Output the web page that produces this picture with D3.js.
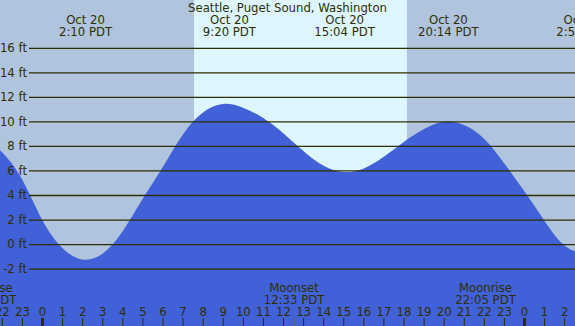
<!DOCTYPE html>
<html>
<head>
<meta charset="utf-8">
<script src="https://cdn.jsdelivr.net/npm/d3@7"></script>
<style>
  html, body { margin: 0; padding: 0; background: #fff; }
  svg { display: block; }
  text { font-family: "DejaVu Sans", sans-serif; font-size: 11.7px; fill: #2e2e00; }
</style>
</head>
<body>
<div id="chart"></div>
<script>
// tide curve (hours from midnight Oct 20, feet)
const tideHours = [-3, -2, -1, 0, 1, 2, 3, 4, 5, 6, 7, 8, 9, 10, 11, 12, 13, 14, 15, 16, 17, 18, 19, 20, 21, 22, 23, 24, 25, 26, 27, 28];
const tideFeet = [9.0, 7.5, 5.3, 2.0, -0.3, -1.25, -0.8, 1.0, 3.65, 6.25, 8.9, 10.7, 11.42, 11.12, 10.3, 9.05, 7.6, 6.4, 5.88, 6.15, 7.1, 8.3, 9.35, 9.97, 9.7, 8.6, 6.6, 4.35, 1.95, -0.1, -0.65, -0.3];

// high / low labels
const extremaHours = [2.167, 9.333, 15.067, 20.233, 26.93];
const extremaDates = ["Oct 20", "Oct 20", "Oct 20", "Oct 20", "Oct 21"];
const extremaTimes = ["2:10 PDT", "9:20 PDT", "15:04 PDT", "20:14 PDT", "2:56 PDT"];

// moon events
const moonHours = [-2.783, 12.55, 22.083];
const moonNames = ["Moonrise", "Moonset", "Moonrise"];
const moonTimes = ["21:13 PDT", "12:33 PDT", "22:05 PDT"];

// daylight
const sunriseHour = 7.57;
const sunsetHour = 18.17;

const feetTicks = [-2, 0, 2, 4, 6, 8, 10, 12, 14, 16];
const hourTicks = d3.range(-2, 27);
const title = "Seattle, Puget Sound, Washington";

const width = 575, height = 326;

const x = d3.scaleLinear().domain([0, 24]).range([42, 524]);
const y = d3.scaleLinear().domain([-2, 16]).range([268.6, 47.8]);

const svg = d3.select("#chart").append("svg")
    .attr("width", width)
    .attr("height", height);

// night / day background
svg.append("rect")
    .attr("x", 0).attr("y", 0)
    .attr("width", width).attr("height", height)
    .attr("fill", "#b0c4de");
svg.append("rect")
    .attr("x", x(sunriseHour)).attr("y", 0)
    .attr("width", x(sunsetHour) - x(sunriseHour)).attr("height", height)
    .attr("fill", "#ddf6ff");

// tide area
const tide = tideHours.map((h, i) => ({ h: h, v: tideFeet[i] }));
const area = d3.area()
    .x(d => x(d.h))
    .y0(height)
    .y1(d => y(d.v))
    .curve(d3.curveNatural);
svg.append("path")
    .datum(tide)
    .attr("d", area)
    .attr("fill", "#4161d8");

// feet grid + labels
const yAxis = svg.append("g")
    .attr("transform", "translate(29,0)")
    .call(d3.axisLeft(y)
        .tickValues(feetTicks)
        .tickSize(-(width - 29))
        .tickPadding(2)
        .tickFormat(d => d + " ft"));
yAxis.select(".domain").remove();
yAxis.selectAll("line").attr("stroke", "#2e2e00").attr("stroke-width", 1.3);
yAxis.selectAll("text")
    .attr("fill", "#2e2e00")
    .style("font-family", "DejaVu Sans")
    .style("font-size", "11.7px");

// hour ticks along the bottom
const xAxis = svg.append("g")
    .attr("transform", `translate(0,${height})`)
    .call(d3.axisTop(x)
        .tickValues(hourTicks)
        .tickSize(8)
        .tickPadding(2)
        .tickFormat(h => ((h % 24) + 24) % 24));
xAxis.select(".domain").remove();
xAxis.selectAll("line")
    .attr("stroke", "#2e2e00")
    .attr("stroke-width", h => (h % 24 === 0 ? 3 : 1));
xAxis.selectAll("text")
    .attr("fill", "#2e2e00")
    .style("font-family", "DejaVu Sans")
    .style("font-size", "11.7px");

// moon ticks
svg.selectAll(".moontick")
    .data(moonHours)
    .enter().append("line")
    .attr("class", "moontick")
    .attr("x1", d => x(d)).attr("x2", d => x(d))
    .attr("y1", height - 8).attr("y2", height)
    .attr("stroke", "#6e6a40")
    .attr("stroke-width", 1);

// moon labels
const moon = svg.selectAll(".moon")
    .data(moonHours)
    .enter().append("g")
    .attr("class", "moon")
    .attr("transform", d => `translate(${x(d)},0)`);
moon.append("text")
    .attr("y", 292)
    .attr("text-anchor", "middle")
    .text((d, i) => moonNames[i]);
moon.append("text")
    .attr("y", 304)
    .attr("text-anchor", "middle")
    .text((d, i) => moonTimes[i]);

// high / low labels at top
const ext = svg.selectAll(".ext")
    .data(extremaHours)
    .enter().append("g")
    .attr("class", "ext")
    .attr("transform", d => `translate(${x(d)},0)`);
ext.append("text")
    .attr("y", 24)
    .attr("text-anchor", "middle")
    .text((d, i) => extremaDates[i]);
ext.append("text")
    .attr("y", 36)
    .attr("text-anchor", "middle")
    .text((d, i) => extremaTimes[i]);

// title
svg.append("text")
    .attr("x", width / 2)
    .attr("y", 12)
    .attr("text-anchor", "middle")
    .text(title);
</script>
</body>
</html>
